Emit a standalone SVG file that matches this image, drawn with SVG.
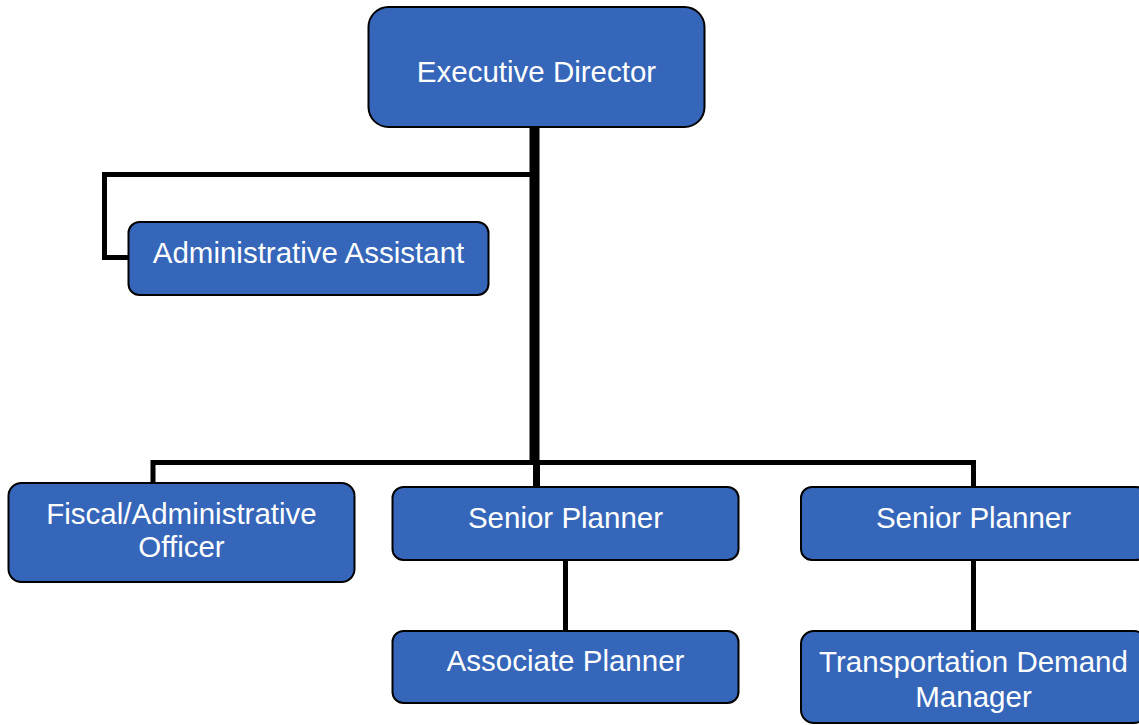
<svg xmlns="http://www.w3.org/2000/svg" width="1139" height="725" viewBox="0 0 1139 725">
  <style>
    .box { fill: #3566B9; stroke: #000; stroke-width: 2; }
    .lbl { font-family: "Liberation Sans", Arial, sans-serif; font-size: 29.5px; fill: #fff; text-anchor: middle; }
    .wire { fill: none; stroke: #000; stroke-linejoin: miter; }
  </style>
  <rect width="1139" height="725" fill="#fff"/>

  <!-- reporting lines -->
  <g id="connectors">
    <path class="wire" stroke-width="5" d="M534 174.5 H104.5 V257.5 H130"/>
    <path class="wire" stroke-width="5" d="M153 483 V462.5 H973.5 V487"/>
    <path class="wire" stroke-width="10" d="M534.5 127 V462"/>
    <path class="wire" stroke-width="7" d="M536.5 462 V487"/>
    <path class="wire" stroke-width="5" d="M565.5 560 V631"/>
    <path class="wire" stroke-width="5" d="M973.5 560 V631"/>
  </g>

  <g id="executive-director">
    <rect class="box" x="368.5" y="7" width="336" height="120" rx="20"/>
    <text class="lbl" x="536.5" y="82">Executive Director</text>
  </g>

  <g id="administrative-assistant">
    <rect class="box" x="128.5" y="222" width="360" height="73" rx="11"/>
    <text class="lbl" x="308.5" y="263">Administrative Assistant</text>
  </g>

  <g id="fiscal-officer">
    <rect class="box" x="8.5" y="483" width="346" height="99" rx="13"/>
    <text class="lbl" x="181.5" y="524">Fiscal/Administrative</text>
    <text class="lbl" x="181.5" y="557">Officer</text>
  </g>

  <g id="senior-planner-1">
    <rect class="box" x="392.5" y="487" width="346" height="73" rx="11"/>
    <text class="lbl" x="565.5" y="528">Senior Planner</text>
  </g>

  <g id="associate-planner">
    <rect class="box" x="392.5" y="631" width="346" height="72" rx="11"/>
    <text class="lbl" x="565.5" y="671">Associate Planner</text>
  </g>

  <g id="senior-planner-2">
    <rect class="box" x="801" y="487" width="346" height="73" rx="11"/>
    <text class="lbl" x="973.5" y="528">Senior Planner</text>
  </g>

  <g id="transportation-demand-manager">
    <rect class="box" x="801" y="631" width="346" height="92" rx="13"/>
    <text class="lbl" x="973.5" y="672">Transportation Demand</text>
    <text class="lbl" x="973.5" y="707">Manager</text>
  </g>
</svg>
